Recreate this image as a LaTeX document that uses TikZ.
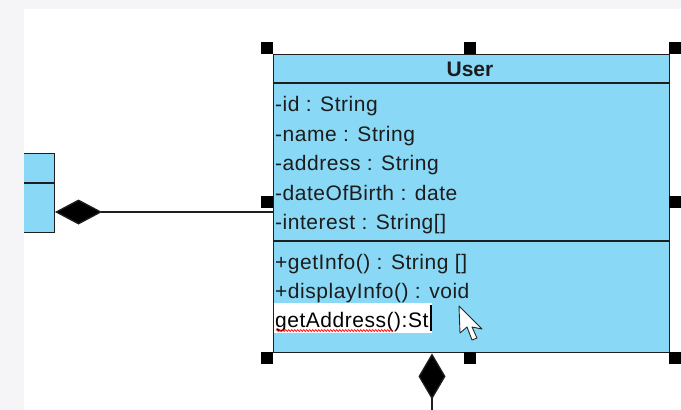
\documentclass[tikz,border=0pt]{standalone}
\usepackage{fontspec}
\setmainfont{Liberation Sans}
\newfontfamily\spacedfont[LetterSpace=2.5]{Liberation Sans}
\usetikzlibrary{arrows.meta,decorations.pathmorphing}
\definecolor{umlblue}{RGB}{137,216,246}
\definecolor{edgecol}{RGB}{30,30,30}
\definecolor{bggrey}{RGB}{245,245,247}
\definecolor{txtcol}{RGB}{28,28,28}
\begin{document}
\begin{tikzpicture}[x=1pt,y=-1pt,
  classbox/.style={draw=edgecol, fill=umlblue, line width=1.4pt, inner sep=0pt},
  sepline/.style={draw=edgecol, line width=1.4pt},
  txt/.style={inner sep=0pt, anchor=base west, text=txtcol, font=\spacedfont\fontsize{21}{25}\selectfont},
  handle/.style={fill=black},
  conn/.style={draw=edgecol, line width=1.3pt}]
\useasboundingbox (0,0) rectangle (681,410);
\fill[white] (0,0) rectangle (681,410);

% left (partial) class
\node[classbox, anchor=north east, minimum width=50pt, minimum height=79pt] (part) at (55,153) {};
\draw[sepline] (part.west |- 0,183) -- (part.east |- 0,183);

% User class
\node[classbox, anchor=north west, minimum width=396pt, minimum height=298pt] (user) at (273,54) {};
\draw[sepline] (user.west |- 0,83) -- (user.east |- 0,83);
\draw[sepline] (user.west |- 0,241) -- (user.east |- 0,241);

\node[txt, anchor=base, font=\fontsize{21}{25}\selectfont\bfseries] (title) at (470,76) {User};
\node[txt] (a1) at (275,111) {-id : String};
\node[txt] (a2) at (275,141) {-name : String};
\node[txt] (a3) at (275,170) {-address : String};
\node[txt] (a4) at (275,200) {-dateOfBirth : date};
\node[txt] (a5) at (275,229) {-interest : String[]};
\node[txt] (o1) at (275,269) {+getInfo() : String []};
\node[txt] (o2) at (275,298) {+displayInfo() : void};

% in-place editor
\node[fill=white, inner sep=0pt, anchor=north west, minimum width=158pt, minimum height=30pt] (edit) at (274,303) {};
\node[txt, text=black] (o3) at (275,327) {getAddress():St};
\draw[black, line width=1.2pt] (431,305) -- (431,331);
\draw[red, line width=0.7pt, decorate, decoration={zigzag, segment length=3pt, amplitude=1pt}] (276,330.5) -- (393,330.5);

% mouse pointer
\draw[fill=white, draw=black!85, line width=0.9pt, line join=round, shift={(459,306)}]
  (0,0) -- (1,27) -- (8,21) -- (13,34) -- (18,32) -- (13,21) -- (23,23) -- cycle;

% selection handles
\foreach \hx/\hy in {267/48, 470/48, 675/48, 267/202, 675/202, 267/358, 470/358, 675/358}
  \fill[handle] (\hx-6,\hy-6) rectangle ++(12,12);

% connectors
\coordinate (vend) at (432,410);
\draw[conn, {Diamond[length=47pt,width=25pt,fill=black]}-] (part.east |- 0,212) -- (user.west |- 0,212);
\draw[conn, {Diamond[length=46pt,width=27pt,fill=black]}-] (user.south -| vend) -- (vend);

% surrounding frame
\fill[bggrey] (0,0) rectangle (681,9);
\fill[bggrey] (0,0) rectangle (24,410);
\end{tikzpicture}
\end{document}
